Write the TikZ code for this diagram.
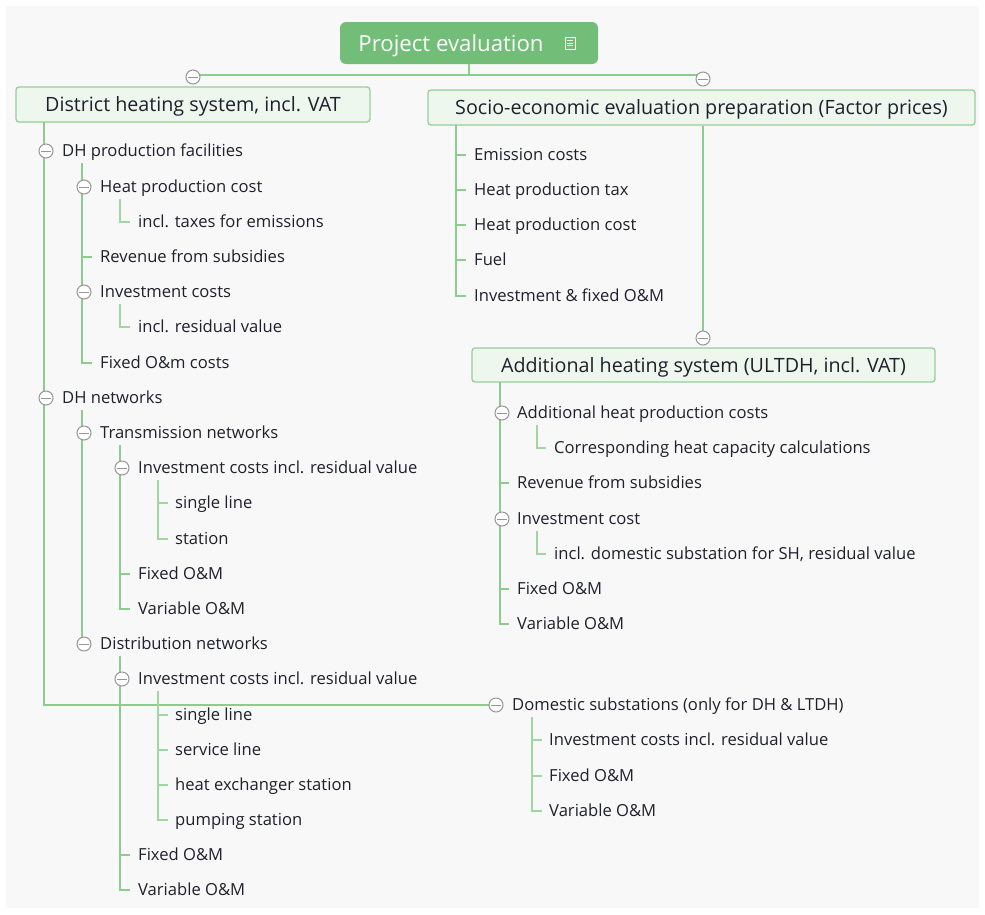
\documentclass[tikz,border=0pt]{standalone}
\usepackage{fontspec}
\setmainfont{Open Sans}
\definecolor{bgc}{RGB}{248,248,248}
\definecolor{gline}{RGB}{140,204,142}
\definecolor{sline}{RGB}{160,214,161}
\definecolor{rootfill}{RGB}{114,190,120}
\definecolor{boxfill}{RGB}{238,247,238}
\definecolor{boxline}{RGB}{150,208,152}
\definecolor{txt}{RGB}{32,32,44}
\definecolor{cgray}{RGB}{150,150,150}
\tikzset{
  item/.style={anchor=west, inner sep=0pt, text=txt, font=\fontsize{16.6}{19}\selectfont,
    text height=11.9pt, text depth=0pt},
  lvlbox/.style={draw=boxline, fill=boxfill, rounded corners=3pt, line width=1.3pt,
    minimum height=35pt, inner sep=0pt, text=txt, font=\fontsize{19.7}{23}\selectfont,
    text height=14.2pt, text depth=0pt},
  rootbox/.style={fill=rootfill, rounded corners=6pt, minimum width=258pt, minimum height=42pt,
    inner sep=0pt, text=white, font=\fontsize{22.2}{26}\selectfont,
    text height=16pt, text depth=0pt},
  coll/.style={circle, draw=cgray, fill=white, minimum size=14pt, inner sep=0pt, line width=1pt,
    path picture={\draw[cgray, line width=1pt]
      ([xshift=-5pt]path picture bounding box.center) -- ([xshift=5pt]path picture bounding box.center);}},
  main/.style={draw=gline, line width=2pt},
  sub/.style={draw=sline, line width=1.6pt},
}
\begin{document}
\begin{tikzpicture}[x=1pt,y=-1pt]
\useasboundingbox (0,0) rectangle (985,914);
\fill[bgc] (6,6) rectangle (979,908);

% ---------- root ----------
\node[rootbox] (root) at (469,43) {Project evaluation\kern36pt};
\node[draw=white, line width=1pt, minimum width=10pt, minimum height=12pt, inner sep=0pt] (note) at (570,43) {};
\draw[white, line width=0.9pt] ([xshift=2.5pt,yshift=2.5pt]note.west) -- ([xshift=-2.5pt,yshift=2.5pt]note.east)
  ([xshift=2.5pt]note.west) -- ([xshift=-2.5pt]note.east)
  ([xshift=2.5pt,yshift=-2.5pt]note.west) -- ([xshift=-2.5pt,yshift=-2.5pt]note.east);

\coordinate (hub) at (469,75);
\node[lvlbox, minimum width=354pt] (dh) at (193,104.5) {District heating system, incl. VAT};
\node[lvlbox, minimum width=547pt] (so) at (701.5,107.5) {Socio-economic evaluation preparation (Factor prices)};
\coordinate (cdhp) at (193,77);
\coordinate (csop) at (703,79);
\draw[main] (root.south) -- (hub);
\draw[main] (cdhp) |- (hub) -| (csop);
\node[coll] (cdh) at (cdhp) {};
\node[coll] (cso) at (csop) {};

% ---------- socio-economic subtree ----------
\coordinate (S0) at (456,125);
\node[item] (s1) at (474,155) {Emission costs};
\node[item] (s2) at (474,190) {Heat production tax};
\node[item] (s3) at (474,225) {Heat production cost};
\node[item] (s4) at (474,260) {Fuel};
\node[item] (s5) at (474,296) {Investment \& fixed O\&M};
\draw[main] (S0) |- ([xshift=-8pt]s5.west);
\foreach \n in {s1,s2,s3,s4} \draw[main] (S0 |- \n.west) -- ([xshift=-8pt]\n.west);

% ---------- additional heating ----------
\node[lvlbox, minimum width=463pt, minimum height=34pt] (add) at (703.5,365) {Additional heating system (ULTDH, incl. VAT)};
\coordinate (cadd) at (703,338);
\draw[main] (cadd |- so.south) -- (cadd);
\node[coll] (caddc) at (cadd) {};

\coordinate (A0) at (500,382);
\node[item] (a1) at (517,413) {Additional heat production costs};
\node[item] (a11) at (554,448) {Corresponding heat capacity calculations};
\node[item] (a2) at (517,483) {Revenue from subsidies};
\node[item] (a3) at (517,519) {Investment cost};
\node[item] (a31) at (554,554) {incl. domestic substation for SH, residual value};
\node[item] (a4) at (517,589) {Fixed O\&M};
\node[item] (a5) at (517,624) {Variable O\&M};
\draw[main] (A0) |- ([xshift=-8pt]a5.west);
\foreach \n in {a2,a4} \draw[main] (A0 |- \n.west) -- ([xshift=-8pt]\n.west);
\coordinate (A1) at (537,425);
\draw[sub] (A1) |- ([xshift=-8pt]a11.west);
\coordinate (A3) at (537,531);
\draw[sub] (A3) |- ([xshift=-8pt]a31.west);
\node[coll] (ca1) at (502,413) {};
\node[coll] (ca3) at (502,519) {};

% ---------- district heating subtree ----------
\coordinate (L0) at (44,122);
\coordinate (cdsp) at (496,705);
\node[item] (d1) at (62,151) {DH production facilities};
\node[item] (d2) at (62,398) {DH networks};
\node[item] (d3) at (512,705) {Domestic substations (only for DH \& LTDH)};
\draw[main] (L0) |- (cdsp);
\node[coll] (cds) at (cdsp) {};

% DH production facilities
\node[item] (p1) at (100,187) {Heat production cost};
\node[item] (p11) at (138,222) {incl. taxes for emissions};
\node[item] (p2) at (100,257) {Revenue from subsidies};
\node[item] (p3) at (100,292) {Investment costs};
\node[item] (p31) at (138,327) {incl. residual value};
\node[item] (p4) at (100,363) {Fixed O\&m costs};
\coordinate (P0) at (82,163);
\draw[main] (P0) |- ([xshift=-8pt]p4.west);
\draw[main] (P0 |- p2.west) -- ([xshift=-8pt]p2.west);
\coordinate (P1) at (120,199);
\draw[sub] (P1) |- ([xshift=-8pt]p11.west);
\coordinate (P3) at (120,304);
\draw[sub] (P3) |- ([xshift=-8pt]p31.west);

% DH networks
\node[item] (t1) at (100,433) {Transmission networks};
\node[item] (t11) at (138,468) {Investment costs incl. residual value};
\node[item] (t111) at (175,503) {single line};
\node[item] (t112) at (175,539) {station};
\node[item] (t12) at (138,574) {Fixed O\&M};
\node[item] (t13) at (138,609) {Variable O\&M};
\node[item] (t2) at (100,644) {Distribution networks};
\node[item] (u11) at (138,679) {Investment costs incl. residual value};
\node[item] (u111) at (175,715) {single line};
\node[item] (u112) at (175,750) {service line};
\node[item] (u113) at (175,785) {heat exchanger station};
\node[item] (u114) at (175,820) {pumping station};
\node[item] (u12) at (138,855) {Fixed O\&M};
\node[item] (u13) at (138,890) {Variable O\&M};

\coordinate (N0) at (82,410);
\draw[main] (N0) |- ([xshift=-16pt]t2.west);
\coordinate (T1) at (120,445);
\draw[main] (T1) |- ([xshift=-8pt]t13.west);
\draw[main] (T1 |- t12.west) -- ([xshift=-8pt]t12.west);
\coordinate (T11) at (158,480);
\draw[sub] (T11) |- ([xshift=-7pt]t112.west);
\draw[sub] (T11 |- t111.west) -- ([xshift=-7pt]t111.west);
\coordinate (U1) at (120,656);
\draw[main] (U1) |- ([xshift=-8pt]u13.west);
\draw[main] (U1 |- u12.west) -- ([xshift=-8pt]u12.west);
\coordinate (U11) at (158,691);
\draw[sub] (U11) |- ([xshift=-7pt]u114.west);
\foreach \n in {u111,u112,u113} \draw[sub] (U11 |- \n.west) -- ([xshift=-7pt]\n.west);

% Domestic substations
\node[item] (w1) at (549,740) {Investment costs incl. residual value};
\node[item] (w2) at (549,776) {Fixed O\&M};
\node[item] (w3) at (549,811) {Variable O\&M};
\coordinate (W0) at (532,717);
\draw[sub] (W0) |- ([xshift=-7pt]w3.west);
\foreach \n in {w1,w2} \draw[sub] (W0 |- \n.west) -- ([xshift=-7pt]\n.west);

% collapse circles of the district heating tree
\node[coll] (cd1) at (46,151) {};
\node[coll] (cd2) at (46,398) {};
\node[coll] (cp1) at (84,187) {};
\node[coll] (cp3) at (84,292) {};
\node[coll] (ct1) at (84,433) {};
\node[coll] (ct2) at (84,644) {};
\node[coll] (ct11) at (122,468) {};
\node[coll] (cu11) at (122,679) {};
\end{tikzpicture}
\end{document}
